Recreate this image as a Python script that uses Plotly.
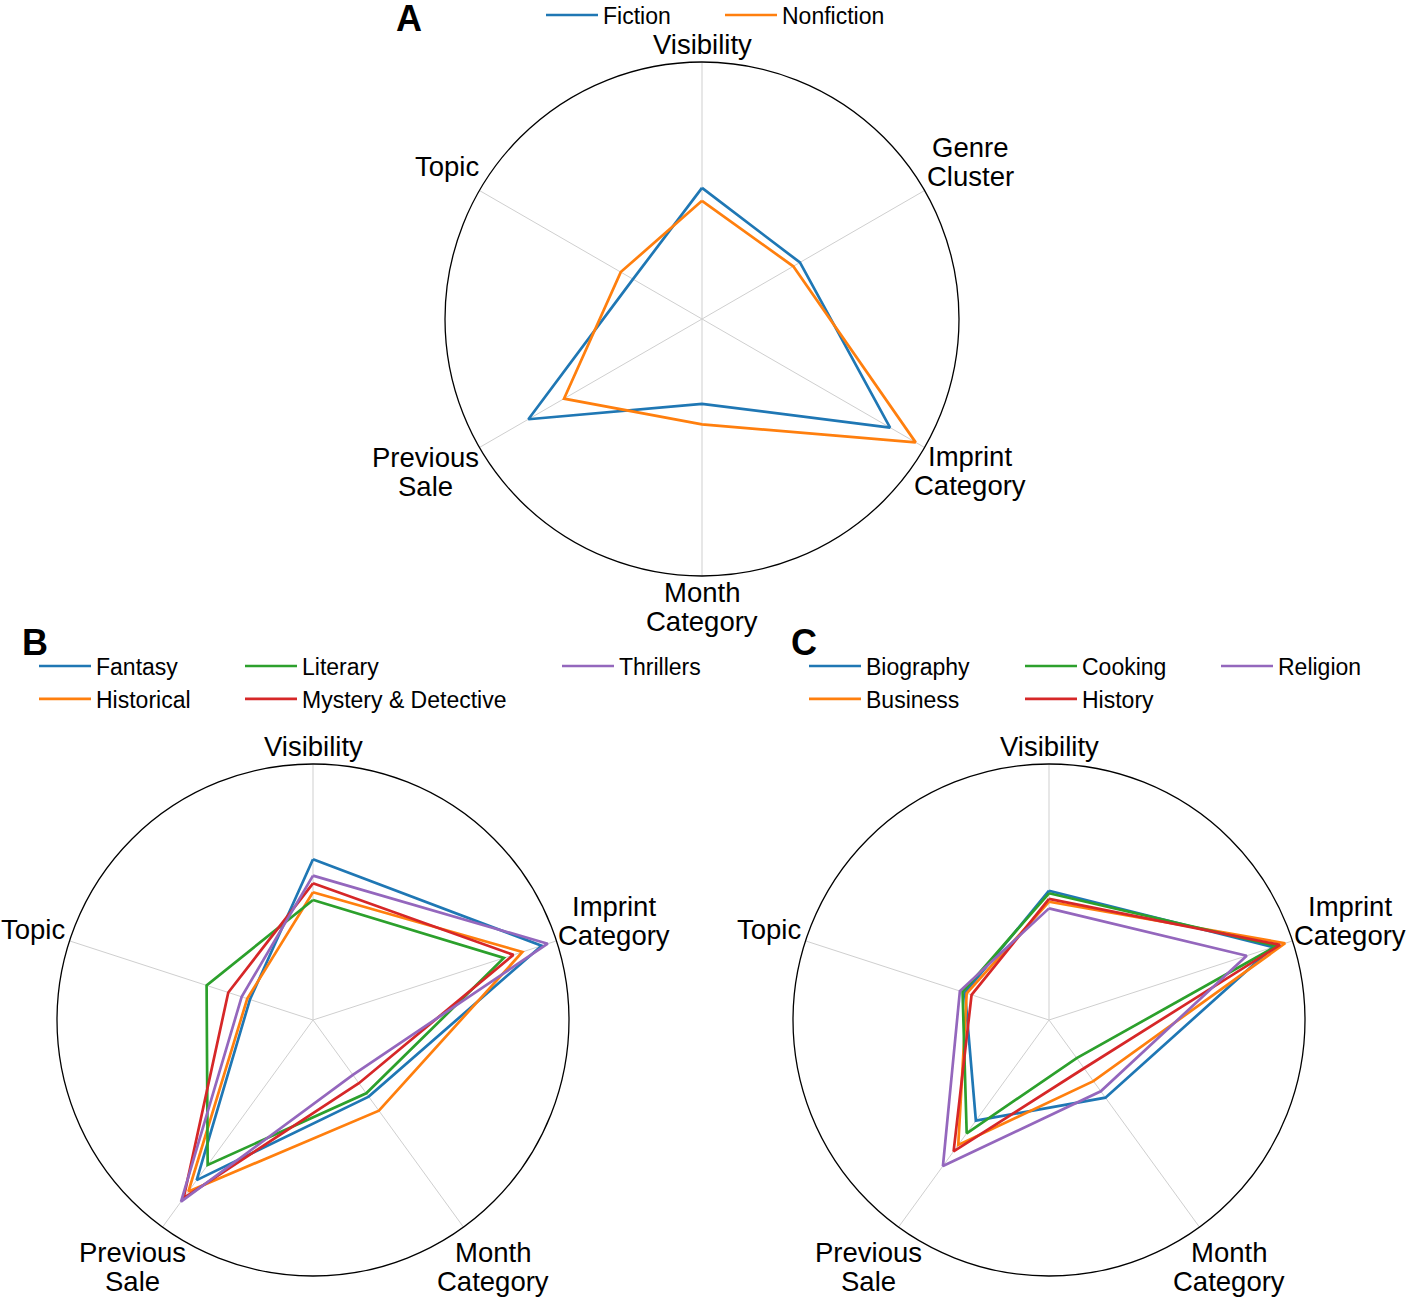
import plotly.graph_objects as go

W, H = 1406, 1297

# ---------------- data ----------------
a_axes = ["Visibility", "Genre Cluster", "Imprint Category", "Month Category", "Previous Sale", "Topic"]
a_labels = [["Visibility"], ["Genre", "Cluster"], ["Imprint", "Category"], ["Month", "Category"],
            ["Previous", "Sale"], ["Topic"]]
fiction = [0.51, 0.44, 0.845, 0.33, 0.78, 0.31]
nonfiction = [0.46, 0.41, 0.96, 0.41, 0.62, 0.365]

bc_axes = ["Visibility", "Imprint Category", "Month Category", "Previous Sale", "Topic"]
bc_labels = [["Visibility"], ["Imprint", "Category"], ["Month", "Category"], ["Previous", "Sale"], ["Topic"]]

fantasy = [0.628, 0.939, 0.37, 0.773, 0.259]
historical = [0.499, 0.86, 0.438, 0.828, 0.27]
literary = [0.469, 0.784, 0.354, 0.70, 0.437]
mystery = [0.534, 0.823, 0.305, 0.86, 0.348]
thrillers = [0.564, 0.964, 0.265, 0.877, 0.293]

biography = [0.505, 0.92, 0.375, 0.486, 0.345]
business = [0.462, 0.97, 0.295, 0.603, 0.338]
cooking = [0.495, 0.935, 0.184, 0.547, 0.355]
history = [0.473, 0.949, 0.233, 0.634, 0.318]
religion = [0.436, 0.812, 0.344, 0.705, 0.366]

BLUE, ORANGE, GREEN, RED, PURPLE = "#1f77b4", "#ff7f0e", "#2ca02c", "#d62728", "#9467bd"
FONT = "Liberation Sans, Arial, sans-serif"
LABEL_SIZE = 27.5
LEG_SIZE = 23
ITEM_W = 52

fig = go.Figure()


def close(v):
    return list(v) + [v[0]]


def add(name, theta, r, color, subplot, legend):
    fig.add_trace(go.Scatterpolar(
        r=close(r), theta=close(theta), mode="lines", name=name,
        line=dict(color=color, width=2.7), subplot=subplot, legend=legend,
        legendgroup=name, hoverinfo="skip"))


add("Fiction", a_axes, fiction, BLUE, "polar", "legend")
add("Nonfiction", a_axes, nonfiction, ORANGE, "polar", "legend2")

add("Fantasy", bc_axes, fantasy, BLUE, "polar2", "legend3")
add("Historical", bc_axes, historical, ORANGE, "polar2", "legend3")
add("Literary", bc_axes, literary, GREEN, "polar2", "legend4")
add("Mystery & Detective", bc_axes, mystery, RED, "polar2", "legend4")
add("Thrillers", bc_axes, thrillers, PURPLE, "polar2", "legend5")

add("Biography", bc_axes, biography, BLUE, "polar3", "legend6")
add("Business", bc_axes, business, ORANGE, "polar3", "legend6")
add("Cooking", bc_axes, cooking, GREEN, "polar3", "legend7")
add("History", bc_axes, history, RED, "polar3", "legend7")
add("Religion", bc_axes, religion, PURPLE, "polar3", "legend8")

# ---------------- layout (pixel geometry) ----------------
A_C, B_C, C_C = (702, 319), (313, 1020), (1049, 1020)
A_R, BC_R = 257, 256
# label block centres relative to the polar centre (pixels)
a_label_off = [(0, -275), (268, -157), (268, 152), (0, 288), (-277, 153), (-255, -152)]
bc_label_off = [(0, -274), (301, -99), (180, 247), (-181, 247), (-280, -91)]
LINE_STEP = 29.5


def dom(c, R):
    cx, cy = c
    return dict(x=[(cx - R) / W, (cx + R) / W], y=[1 - (cy + R) / H, 1 - (cy - R) / H])


def polar(c, R):
    return dict(
        domain=dom(c, R),
        bgcolor="white",
        radialaxis=dict(range=[0, 1], visible=False, showgrid=False),
        angularaxis=dict(
            direction="clockwise", rotation=90,
            showline=True, linecolor="black", linewidth=1.3,
            showgrid=True, gridcolor="#cfcfcf", gridwidth=1.4,
            ticks="", showticklabels=False,
            layer="below traces"),
    )


def leg(text_x, row1_y):
    ih = LEG_SIZE * 1.3 + 3
    ly = row1_y - ih / 2 - 5
    lx = text_x - ITEM_W - 10
    return dict(x=lx / W, y=1 - ly / H, xanchor="left", yanchor="top",
                orientation="v", bgcolor="rgba(0,0,0,0)", borderwidth=0,
                font=dict(size=LEG_SIZE, color="black", family=FONT), itemwidth=ITEM_W,
                tracegroupgap=0, itemclick=False, itemdoubleclick=False)


fig.update_layout(
    width=W, height=H,
    margin=dict(l=0, r=0, t=0, b=0, autoexpand=False),
    paper_bgcolor="white",
    font=dict(family=FONT, color="black"),
    polar=polar(A_C, A_R),
    polar2=polar(B_C, BC_R),
    polar3=polar(C_C, BC_R),
    legend=leg(603, 15),
    legend2=leg(782, 15),
    legend3=leg(96, 666),
    legend4=leg(302, 666),
    legend5=leg(619, 666),
    legend6=leg(866, 666),
    legend7=leg(1082, 666),
    legend8=leg(1278, 666),
    showlegend=True,
)


def px_ann(text, x, y, size, bold=False, height=None):
    fig.add_annotation(text=("<b>%s</b>" % text) if bold else text,
                       x=x / W, y=1 - y / H, xref="paper", yref="paper",
                       xanchor="center", yanchor="middle", showarrow=False,
                       height=height, valign="middle", borderpad=0,
                       font=dict(size=size, color="black", family=FONT))


def axis_labels(c, labels, offs):
    cx, cy = c
    for lines, (dx, dy) in zip(labels, offs):
        n = len(lines)
        for i, t in enumerate(lines):
            px_ann(t, cx + dx, cy + dy + (i - (n - 1) / 2) * LINE_STEP, LABEL_SIZE)


axis_labels(A_C, a_labels, a_label_off)
axis_labels(B_C, bc_labels, bc_label_off)
axis_labels(C_C, bc_labels, bc_label_off)

for txt, x, y in [("A", 409, 18), ("B", 35, 642), ("C", 804, 642)]:
    px_ann(txt, x, y, 36, bold=True, height=34)

fig.write_html("out.html", config={"displayModeBar": False},
               post_script="document.body.style.margin='0px';")
